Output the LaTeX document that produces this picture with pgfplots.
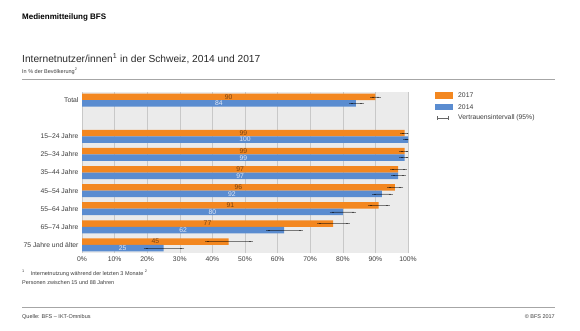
\documentclass[border=0pt]{standalone}
\usepackage{pgfplots}
\pgfplotsset{compat=1.18}
\usepackage{pgfplotstable}
\usepackage{fontspec}
\setmainfont{Liberation Sans}
\definecolor{o17}{RGB}{243,135,32}
\definecolor{b14}{RGB}{90,140,208}
\definecolor{bgc}{RGB}{235,235,235}
\definecolor{gridc}{RGB}{200,200,200}
\definecolor{txt}{RGB}{60,60,60}
\definecolor{lab17}{RGB}{120,65,15}
\definecolor{lab14}{RGB}{225,233,247}
\definecolor{errc}{RGB}{70,70,70}
\pgfplotstableread{
y v17 p17 m17 v14 p14 m14
8 90 1.1 1.0 84 1.9 1.5
6 99 1.2 0.8 100 0.3 0.8
5 99 1.0 1.0 99 1.0 1.0
4 97 2.1 1.8 97 1.8 1.5
3 96 2.0 1.8 92 2.7 2.3
2 91 2.8 2.7 80 3.5 3.4
1 77 4.5 4.3 62 5.1 4.8
0 45 6.8 6.6 25 5.8 5.5
}\data
\newcommand{\fs}[1]{\fontsize{#1}{#1}\selectfont}
\begin{document}
\begin{tikzpicture}
\useasboundingbox (0,0) rectangle (580pt,-330pt);
\fill[white] (0,0) rectangle (580pt,-330pt);
% header texts
\node[anchor=base west, inner sep=0, text=black] at (22pt,-19.5pt) {\fs{8}\bfseries Medienmitteilung BFS};
\node[anchor=base west, inner sep=0, text=txt!70!black] at (22pt,-62pt) {\fs{10.2}Internetnutzer/innen\textsuperscript{1} in der Schweiz, 2014 und 2017};
\node[anchor=base west, inner sep=0, text=txt] at (22pt,-73pt) {\fs{5.5}In \% der Bevölkerung\textsuperscript{2}};
\draw[gray!70, line width=0.8pt] (22pt,-79pt) -- (555pt,-79pt);
\begin{axis}[
  at={(82pt,-92pt)}, anchor=north west,
  scale only axis, width=326pt, height=161pt,
  xmin=0, xmax=100, ymin=-0.45, ymax=8.45,
  xbar, bar width=6.5pt,
  axis background/.style={fill=bgc},
  axis line style={draw=none},
  xmajorgrids, grid style={gridc, line width=0.6pt},
  major tick length=0pt,
  xtick={0,10,...,100},
  xticklabel={\pgfmathprintnumber{\tick}\%},
  ytick={0,1,2,3,4,5,6,8},
  yticklabels={75 Jahre und älter, 65–74 Jahre, 55–64 Jahre, 45–54 Jahre, 35–44 Jahre, 25–34 Jahre, 15–24 Jahre, Total},
  tick label style={font=\fs{6.8}, text=txt},
  /pgf/number format/assume math mode=true,
  nodes near coords={\pgfmathprintnumber[fixed,precision=0]{\pgfplotspointmeta}},
  point meta=x,
  visualization depends on=x \as \rawx,
  every node near coord/.append style={anchor=center, font=\fs{6.8}, shift={(axis direction cs:-\rawx/2,0)}},
]
\addplot[fill=o17, draw=none, bar shift=3.25pt,
  every node near coord/.append style={text=lab17},
  error bars/.cd, x dir=both, x explicit,
  error bar style={black, opacity=0.45, line width=0.55pt},
  error mark options={black, opacity=0.45, mark size=2pt, line width=0.55pt}]
  table[x=v17, y=y, x error plus=p17, x error minus=m17]{\data};
\addplot[fill=b14, draw=none, bar shift=-3.25pt,
  every node near coord/.append style={text=lab14},
  error bars/.cd, x dir=both, x explicit,
  error bar style={black, opacity=0.45, line width=0.55pt},
  error mark options={black, opacity=0.45, mark size=2pt, line width=0.55pt}]
  table[x=v14, y=y, x error plus=p14, x error minus=m14]{\data};
\end{axis}
% legend
\fill[o17] (435pt,-92pt) rectangle (453pt,-98.5pt);
\node[anchor=west, inner sep=0, text=txt] at (458pt,-95.3pt) {\fs{6.8}2017};
\fill[b14] (435pt,-103.5pt) rectangle (453pt,-110pt);
\node[anchor=west, inner sep=0, text=txt] at (458pt,-106.8pt) {\fs{6.8}2014};
\draw[black!60, line width=0.55pt] (437pt,-118pt) -- (448pt,-118pt);
\draw[black!60, line width=0.55pt] (437pt,-116pt) -- (437pt,-120pt);
\draw[black!60, line width=0.55pt] (448pt,-116pt) -- (448pt,-120pt);
\node[anchor=west, inner sep=0, text=txt] at (458pt,-118pt) {\fs{6.8}Vertrauensintervall (95\%)};
% footnotes
\node[anchor=base west, inner sep=0, text=txt] at (22pt,-275pt) {\fs{5.5}\textsuperscript{1}\hspace{6pt}Internetnutzung während der letzten 3 Monate \textsuperscript{2}};
\node[anchor=base west, inner sep=0, text=txt] at (22pt,-284pt) {\fs{5.5}Personen zwischen 15 und 88 Jahren};
\draw[gray!70, line width=0.8pt] (22pt,-307pt) -- (555pt,-307pt);
\node[anchor=base west, inner sep=0, text=txt] at (22pt,-318pt) {\fs{5.5}Quelle: BFS – IKT-Omnibus};
\node[anchor=base east, inner sep=0, text=txt] at (555pt,-318pt) {\fs{5.5}© BFS 2017};
\end{tikzpicture}
\end{document}
